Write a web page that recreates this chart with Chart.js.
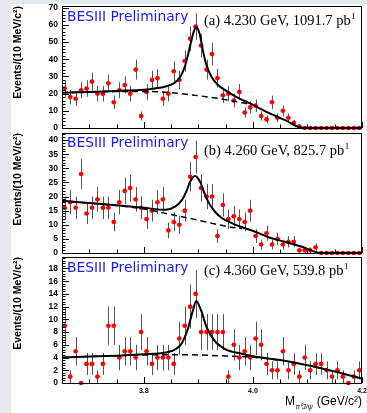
<!DOCTYPE html>
<html>
<head>
<meta charset="utf-8">
<script src="https://cdn.jsdelivr.net/npm/chart.js@4.4.1/dist/chart.umd.min.js"></script>
<style>
  html, body { margin: 0; padding: 0; }
  body { width: 367px; height: 413px; background: #e6e8f1; position: relative; overflow: hidden; }
  .sheet { position: absolute; left: 11px; top: 4px; right: 0; bottom: 0; background: #fff; }
  canvas { position: absolute; left: 0; }
</style>
</head>
<body>
<div class="sheet"></div>
<canvas id="chartA" width="367" height="136" style="top:0px"></canvas>
<canvas id="chartB" width="367" height="134" style="top:127px"></canvas>
<canvas id="chartC" width="367" height="162" style="top:251px"></canvas>
<script>
// bin centres, 10 MeV bins
const binCenters = [3.655, 3.665, 3.675, 3.685, 3.695, 3.705, 3.715, 3.725, 3.735, 3.745,
    3.755, 3.765, 3.775, 3.785, 3.795, 3.805, 3.815, 3.825, 3.835, 3.845,
    3.855, 3.865, 3.875, 3.885, 3.895, 3.905, 3.915, 3.925, 3.935, 3.945,
    3.955, 3.965, 3.975, 3.985, 3.995, 4.005, 4.015, 4.025, 4.035, 4.045,
    4.055, 4.065, 4.075, 4.085, 4.095, 4.105, 4.115, 4.125, 4.135, 4.145,
    4.155, 4.165, 4.175, 4.185, 4.195];

// events per bin
const countsA = [23, 18, 17, 22, 23, 27, 20, 20, 26, 15, 22, 25, 20, 34, 7, 21, 28, 29, 17, 20,
    33, 28, 39, 52, 59, 48, 34, 43, 29, 19, 20, 16, 21, 9, 12, 13, 7, 5, 15, 6,
    10, 6, 3, 1, 0, 0, 0, 0, 0, 0, 0, 0, 0, 0, 0];
const countsB = [16, 18, 16, 28, 14, 16, 19, 16, 16, 11, 18, 22, 23, 19, 16, 12, 15, 18, 19, 8,
    11, 10, 15, 27, 34, 23, 20, 20, 6, 17, 12, 13, 12, 11, 15, 6, 3, 7, 3, 5,
    3, 4, 4, 1, 1, 1, 2, 0, 0, 0, 0, 0, 0, 0, 0];
const countsC = [9, 1, 5, 0, 3, 3, 1, 3, 9, 9, 4, 5, 5, 4, 8, 5, 3, 4, 4, 4,
    3, 7, 9, 12, 14, 8, 8, 8, 8, 8, 1, 6, 4, 5, 4, 7, 6, 3, 2, 2,
    5, 2, 3, 1, 4, 2, 3, 3, 2, 1, 2, 1, 0, 1, 2];

// fit curves (total = solid, background = dashed)
const fitXA = [3.65, 3.70, 3.75, 3.80, 3.82, 3.84, 3.855, 3.867, 3.876, 3.882, 3.888, 3.892, 3.896,
    3.900, 3.903, 3.909, 3.915, 3.924, 3.936, 3.949, 3.967, 3.985, 4.00, 4.03, 4.06, 4.09, 4.20];
const fitA = [20.5, 21.0, 21.6, 22.3, 23.0, 24.2, 26.0, 29.8, 36.5, 44, 52, 56.5, 58.8,
    57, 54, 44, 36.5, 29.8, 25, 22, 18.6, 15.7, 13.5, 8.6, 4.4, 0.2, 0];
const bkgXA = [3.65, 3.70, 3.75, 3.80, 3.85, 3.90, 3.95, 4.00];
const bkgA = [20.5, 21.0, 21.3, 21.3, 20.5, 18.8, 16.5, 13.5];

const fitXB = [3.65, 3.70, 3.75, 3.80, 3.84, 3.858, 3.870, 3.879, 3.885, 3.894, 3.903, 3.909, 3.918,
    3.930, 3.943, 3.961, 3.979, 4.003, 4.03, 4.06, 4.09, 4.124, 4.20];
const fitB = [18.5, 17.7, 16.9, 16.0, 15.3, 16.5, 18.8, 22.3, 25.3, 27.3, 25.3, 22.3, 18.2,
    14.7, 12.4, 10.6, 9.2, 7.6, 5.5, 3.9, 2.2, 0, 0];
const bkgXB = [3.65, 3.70, 3.75, 3.80, 3.85, 3.90, 3.95, 3.98];
const bkgB = [18.5, 17.7, 16.8, 15.6, 13.6, 11.6, 9.5, 8.6];

const fitXC = [3.65, 3.70, 3.75, 3.80, 3.84, 3.86, 3.87, 3.88, 3.89, 3.896, 3.905, 3.915, 3.93,
    3.95, 3.98, 4.00, 4.05, 4.10, 4.15, 4.20];
const fitC = [4.0, 4.15, 4.3, 4.5, 4.8, 5.4, 6.3, 8.3, 11.4, 12.9, 11.4, 8.8, 6.6,
    5.3, 4.6, 4.2, 3.6, 2.8, 1.8, 0.7];
const bkgXC = [3.65, 3.75, 3.80, 3.85, 3.90, 3.95, 4.00, 4.05];
const bkgC = [4.0, 4.3, 4.4, 4.45, 4.4, 4.25, 4.05, 3.6];

// axis ticks
const yTicksA = [0, 10, 20, 30, 40, 50, 60, 70];
const yTicksB = [0, 5, 10, 15, 20, 25, 30, 35, 40];
const yTicksC = [0, 2, 4, 6, 8, 10, 12, 14, 16, 18];
const xTickLabels = [3.8, 4.0, 4.2];

function pairs(xs, ys) {
    return xs.map((x, i) => ({ x: x, y: ys[i] }));
}

function decor(cfg) {
    return {
        id: 'decor',
        beforeDatasetsDraw(chart) {
            const { ctx, scales: { x, y } } = chart;
            ctx.save();
            binCenters.forEach((c, i) => {
                const n = cfg.counts[i];
                const px = Math.round(x.getPixelForValue(c)) + 0.5;
                if (n > 0) {
                    const e = Math.sqrt(n);
                    ctx.strokeStyle = '#555';
                    ctx.lineWidth = 1;
                    ctx.beginPath();
                    ctx.moveTo(px, y.getPixelForValue(n - e));
                    ctx.lineTo(px, y.getPixelForValue(n + e));
                    ctx.stroke();
                }
                ctx.strokeStyle = '#ff0000';
                ctx.lineWidth = 1.2;
                ctx.beginPath();
                ctx.moveTo(x.getPixelForValue(c - 0.004), y.getPixelForValue(n));
                ctx.lineTo(x.getPixelForValue(c + 0.004), y.getPixelForValue(n));
                ctx.stroke();
            });
            ctx.restore();
        },
        afterDraw(chart) {
            const { ctx, chartArea: a, scales: { x, y } } = chart;
            ctx.save();
            // frame
            ctx.strokeStyle = '#000';
            ctx.lineWidth = 1;
            ctx.strokeRect(a.left + 0.5, a.top + 0.5, a.right - a.left - 1, a.bottom - a.top);

            // y ticks, inward
            ctx.beginPath();
            for (let v = 0; v <= y.max + 1e-9; v += cfg.yMinor) {
                const py = Math.round(y.getPixelForValue(v)) + 0.5;
                ctx.moveTo(a.left, py);
                ctx.lineTo(a.left + 3.5, py);
            }
            cfg.yTicks.forEach(v => {
                const py = Math.round(y.getPixelForValue(v)) + 0.5;
                ctx.moveTo(a.left, py);
                ctx.lineTo(a.left + 7, py);
            });
            ctx.stroke();

            // x ticks, inward
            ctx.beginPath();
            for (let v = 3.65; v <= 4.2001; v += 0.05) {
                const px = Math.round(x.getPixelForValue(v)) + 0.5;
                ctx.moveTo(px, a.bottom);
                ctx.lineTo(px, a.bottom - 3.5);
            }
            xTickLabels.forEach(v => {
                const px = Math.round(x.getPixelForValue(v)) + 0.5;
                ctx.moveTo(px, a.bottom);
                ctx.lineTo(px, a.bottom - 6);
            });
            ctx.stroke();

            // y labels
            ctx.fillStyle = '#000';
            ctx.font = 'bold 8.5px "Liberation Sans"';
            ctx.textAlign = 'right';
            ctx.textBaseline = 'middle';
            cfg.yTicks.forEach(v => {
                ctx.fillText(String(v), a.left - 4, y.getPixelForValue(v));
            });

            // y title
            ctx.save();
            ctx.translate(18, a.top);
            ctx.rotate(-Math.PI / 2);
            ctx.font = 'bold 10.5px "Liberation Sans"';
            ctx.textAlign = 'right';
            ctx.textBaseline = 'middle';
            ctx.fillText('Events/(10 MeV/c²)', 0, 0);
            ctx.restore();

            // x labels and title on the last panel
            if (cfg.showX) {
                ctx.font = 'bold 7px "Liberation Sans"';
                ctx.textAlign = 'center';
                ctx.textBaseline = 'middle';
                xTickLabels.forEach(v => {
                    ctx.fillText(v.toFixed(1), x.getPixelForValue(v), a.bottom + 8);
                });
                const base = a.bottom + 22;
                ctx.textAlign = 'left';
                ctx.textBaseline = 'alphabetic';
                const big = '12px "Liberation Sans"';
                const small = 'italic 7px "Liberation Sans"';
                ctx.font = big;
                const wM = ctx.measureText('M').width;
                const wT = ctx.measureText(' (GeV/c²)').width;
                ctx.font = small;
                const wS = ctx.measureText('π⁰J/ψ').width;
                let sx = a.right - (wM + wS + wT + 1);
                ctx.font = big;
                ctx.fillText('M', sx, base);
                sx += wM + 0.5;
                ctx.font = small;
                ctx.fillText('π⁰J/ψ', sx, base + 4);
                sx += wS + 0.5;
                ctx.font = big;
                ctx.fillText(' (GeV/c²)', sx, base);
            }

            // panel texts
            ctx.textAlign = 'left';
            ctx.textBaseline = 'alphabetic';
            ctx.fillStyle = '#1a1aff';
            ctx.font = '13.8px "DejaVu Sans"';
            ctx.fillText('BESIII Preliminary', 67, a.top + cfg.besY);
            ctx.fillStyle = '#000';
            ctx.font = '14.5px "Liberation Serif"';
            ctx.fillText(cfg.label, 204, a.top + cfg.labY);
            const w = ctx.measureText(cfg.label).width;
            ctx.font = '9px "Liberation Serif"';
            ctx.fillText('1', 204 + w + 0.5, a.top + cfg.labY - 6);
            ctx.restore();
        }
    };
}

function makePanel(id, cfg) {
    new Chart(document.getElementById(id), {
        type: 'scatter',
        data: {
            datasets: [{
                label: 'fit',
                data: pairs(cfg.fitX, cfg.fit),
                showLine: true,
                borderColor: '#000',
                borderWidth: 2,
                pointRadius: 0,
                cubicInterpolationMode: 'monotone',
                order: 0
            }, {
                label: 'background',
                data: pairs(cfg.bkgX, cfg.bkg),
                showLine: true,
                borderColor: '#000',
                borderWidth: 1.5,
                borderDash: [6, 4],
                pointRadius: 0,
                cubicInterpolationMode: 'monotone',
                order: 1
            }, {
                label: 'data',
                data: pairs(binCenters, cfg.counts),
                pointRadius: 2.3,
                pointBackgroundColor: '#ff0000',
                pointBorderWidth: 0,
                clip: false,
                order: 2
            }]
        },
        options: {
            responsive: false,
            animation: false,
            events: [],
            layout: {
                padding: { left: 62, right: 5, top: 6, bottom: cfg.padBottom }
            },
            plugins: {
                legend: { display: false },
                tooltip: { enabled: false }
            },
            scales: {
                x: { type: 'linear', min: 3.65, max: 4.2, display: false },
                y: { min: 0, max: cfg.yMax, display: false }
            }
        },
        plugins: [decor(cfg)]
    });
}

makePanel('chartA', {
    counts: countsA, fitX: fitXA, fit: fitA, bkgX: bkgXA, bkg: bkgA,
    yMax: 71, yTicks: yTicksA, yMinor: 2, padBottom: 8,
    label: '(a) 4.230 GeV, 1091.7 pb', besY: 15, labY: 19, showX: false
});
makePanel('chartB', {
    counts: countsB, fitX: fitXB, fit: fitB, bkgX: bkgXB, bkg: bkgB,
    yMax: 42.5, yTicks: yTicksB, yMinor: 1, padBottom: 8,
    label: '(b) 4.260 GeV, 825.7 pb', besY: 14, labY: 22, showX: false
});
makePanel('chartC', {
    counts: countsC, fitX: fitXC, fit: fitC, bkgX: bkgXC, bkg: bkgC,
    yMax: 19.8, yTicks: yTicksC, yMinor: 0.4, padBottom: 30,
    label: '(c) 4.360 GeV, 539.8 pb', besY: 15, labY: 18, showX: true
});
</script>
</body>
</html>
